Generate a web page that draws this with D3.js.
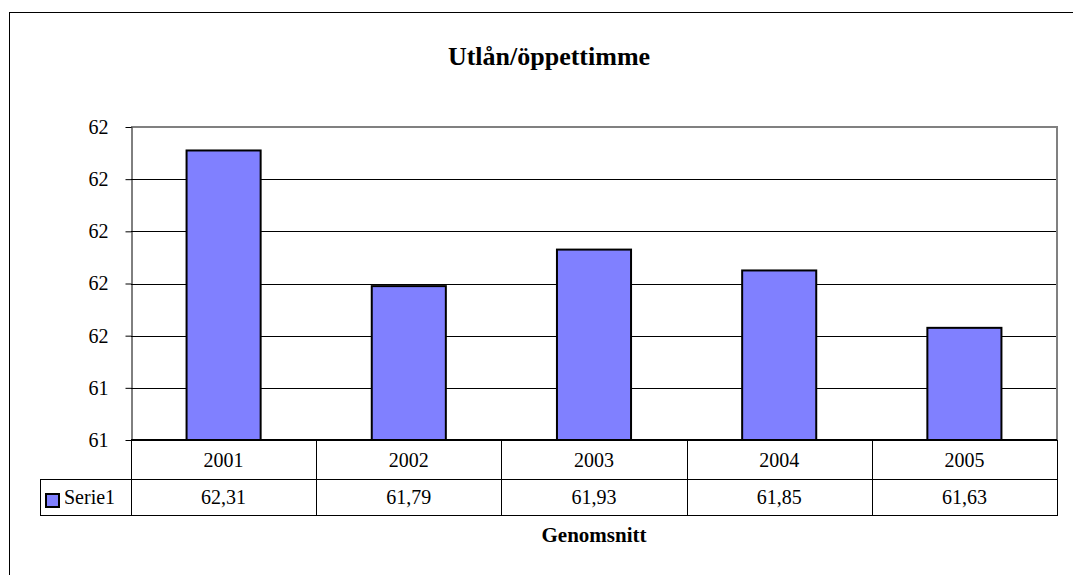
<!DOCTYPE html>
<html>
<head>
<meta charset="utf-8">
<script src="https://cdn.jsdelivr.net/npm/d3@7"></script>
<style>
  body { margin: 0; background: #fff; }
  svg, svg text { font-family: "Liberation Serif", "Times New Roman", Times, "DejaVu Serif", serif !important; }
  svg { display: block; }
</style>
</head>
<body>
<div id="container"></div>
<script>
const width = 1073
const height = 575
const serif = '"Liberation Serif", "Times New Roman", Times, "DejaVu Serif", serif'

// data
const years = ['2001', '2002', '2003', '2004', '2005']
const values = [62.31, 61.79, 61.93, 61.85, 61.63]
const valueLabels = ['62,31', '61,79', '61,93', '61,85', '61,63']
const yTicks = [61.2, 61.4, 61.6, 61.8, 62.0, 62.2, 62.4]
const seriesName = 'Serie1'
const title = 'Utlån/öppettimme'
const xTitle = 'Genomsnitt'

const plot = {left: 131, right: 1057, top: 127, bottom: 440}
const rowH = [39, 36]

const svg = d3.select('div#container').append('svg')
    .attr('width', width)
    .attr('height', height)
    .attr('font-family', serif)

// outer chart border (cropped at right / bottom)
svg.append('rect')
    .attr('x', 9.5).attr('y', 12.5)
    .attr('width', 1200).attr('height', 800)
    .attr('fill', 'none').attr('stroke', '#000').attr('stroke-width', 1)

//----------------------------SCALES----------------------------//
const yScale = d3.scaleLinear().domain([61.2, 62.4]).range([plot.bottom, plot.top])
const xScale = d3.scaleBand().domain(years).range([plot.left, plot.right])
    .paddingInner(0.6).paddingOuter(0.3)
const cellScale = d3.scaleBand().domain(years).range([plot.left, plot.right])

//----------------------------GRID------------------------------//
svg.append('g')
    .selectAll('line')
    .data(yTicks.slice(1, -1))
    .enter().append('line')
    .attr('x1', plot.left).attr('x2', plot.right)
    .attr('y1', d => Math.round(yScale(d)) + 0.5)
    .attr('y2', d => Math.round(yScale(d)) + 0.5)
    .attr('stroke', '#000').attr('stroke-width', 1)

// plot area top / right border (gray)
svg.append('path')
    .attr('d', `M${plot.left},${plot.top}H${plot.right}V${plot.bottom}`)
    .attr('fill', 'none').attr('stroke', '#808080').attr('stroke-width', 2)

//-----------------------------BARS-----------------------------//
svg.append('g')
    .selectAll('rect')
    .data(values)
    .enter().append('rect')
    .attr('x', (d, i) => xScale(years[i]))
    .attr('y', d => yScale(d))
    .attr('width', xScale.bandwidth())
    .attr('height', d => plot.bottom - yScale(d))
    .attr('fill', '#8080ff')
    .attr('stroke', '#000').attr('stroke-width', 2)

//-----------------------------AXES-----------------------------//
const yaxis = d3.axisLeft(yScale)
    .tickValues(yTicks)
    .tickFormat(d3.format('.0f'))
    .tickSizeInner(6).tickSizeOuter(0).tickPadding(17)

const gy = svg.append('g')
    .attr('transform', `translate(${plot.left + 0.5},0)`)
    .call(yaxis)
    .attr('font-family', serif)
    .attr('font-size', 20)
gy.select('.domain').attr('stroke', '#000')
gy.selectAll('.tick line').attr('stroke', '#000')
gy.selectAll('.tick text').attr('fill', '#000')

// x axis line (top of the data table)
svg.append('line')
    .attr('x1', plot.left).attr('x2', plot.right)
    .attr('y1', plot.bottom).attr('y2', plot.bottom)
    .attr('stroke', '#000').attr('stroke-width', 2)

//--------------------------DATA TABLE--------------------------//
const row1 = plot.bottom
const row2 = plot.bottom + rowH[0]
const row3 = row2 + rowH[1]
const legendLeft = 40

const table = svg.append('g')
    .attr('stroke', '#000').attr('stroke-width', 1)

table.append('line')
    .attr('x1', legendLeft).attr('x2', plot.right)
    .attr('y1', row2 + 0.5).attr('y2', row2 + 0.5)
table.append('line')
    .attr('x1', legendLeft).attr('x2', plot.right)
    .attr('y1', row3 + 0.5).attr('y2', row3 + 0.5)
table.append('line')
    .attr('x1', legendLeft + 0.5).attr('x2', legendLeft + 0.5)
    .attr('y1', row2).attr('y2', row3 + 1)

const edges = years.map(y => cellScale(y)).concat([plot.right])
table.selectAll('.col')
    .data(edges)
    .enter().append('line')
    .attr('class', 'col')
    .attr('x1', d => Math.round(d) + 0.5).attr('x2', d => Math.round(d) + 0.5)
    .attr('y1', row1).attr('y2', row3 + 1)

svg.append('g')
    .selectAll('text')
    .data(years)
    .enter().append('text')
    .attr('x', d => cellScale(d) + cellScale.bandwidth() / 2)
    .attr('y', row1 + 27)
    .attr('text-anchor', 'middle')
    .attr('font-size', 20)
    .text(d => d)

svg.append('g')
    .selectAll('text')
    .data(valueLabels)
    .enter().append('text')
    .attr('x', (d, i) => cellScale(years[i]) + cellScale.bandwidth() / 2)
    .attr('y', row2 + 25)
    .attr('text-anchor', 'middle')
    .attr('font-size', 20)
    .text(d => d)

// legend key in table
svg.append('rect')
    .attr('x', 46).attr('y', 494)
    .attr('width', 13).attr('height', 13)
    .attr('fill', '#8080ff')
    .attr('stroke', '#000').attr('stroke-width', 2)
svg.append('text')
    .attr('x', 64).attr('y', row2 + 25)
    .attr('font-size', 20)
    .text(seriesName)

//----------------------------TITLES----------------------------//
svg.append('text')
    .attr('x', 549).attr('y', 65)
    .attr('text-anchor', 'middle')
    .attr('font-size', 26).attr('font-weight', 'bold')
    .text(title)

svg.append('text')
    .attr('x', (plot.left + plot.right) / 2).attr('y', 542)
    .attr('text-anchor', 'middle')
    .attr('font-size', 21).attr('font-weight', 'bold')
    .text(xTitle)
</script>
</body>
</html>
